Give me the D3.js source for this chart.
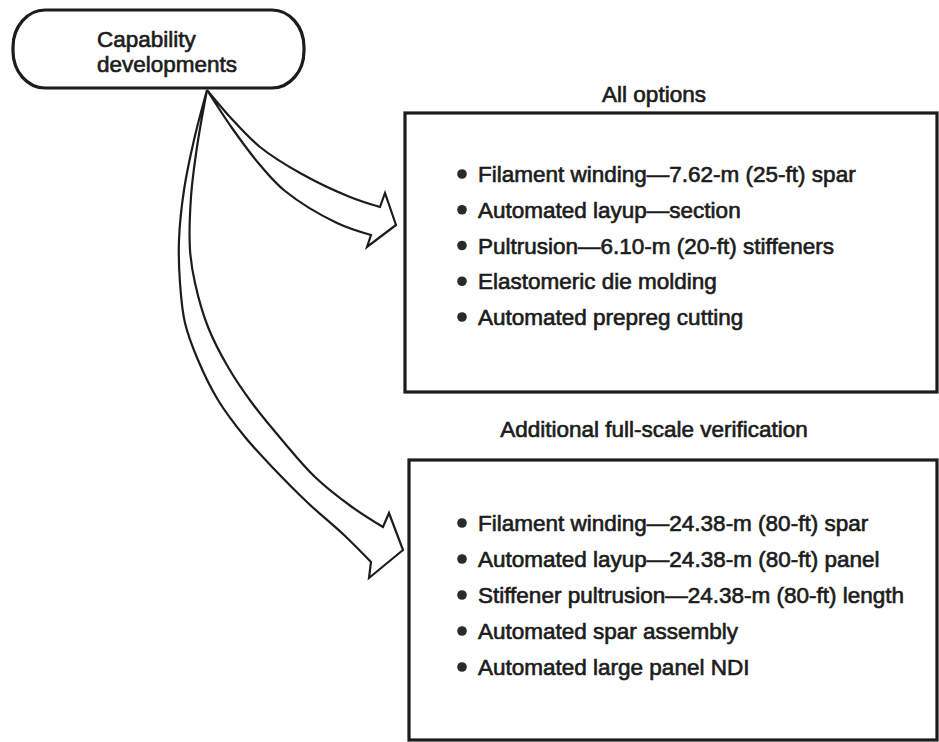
<!DOCTYPE html>
<html>
<head>
<meta charset="utf-8">
<script src="https://cdn.jsdelivr.net/npm/d3@7/dist/d3.min.js"></script>
<style>
  html, body { margin: 0; padding: 0; background: #fff; }
  svg { display: block; }
  text { font-family: "Liberation Sans", Arial, sans-serif; fill: #1c1c1c; stroke: #1c1c1c; stroke-width: 0.65px; }
</style>
</head>
<body>
<div id="chart"></div>
<script>
// ---- data ----
const rootLabel = ["Capability", "developments"];
const groupTitles = ["All options", "Additional full-scale verification"];
const allOptions = [
  "Filament winding\u20147.62-m (25-ft) spar",
  "Automated layup\u2014section",
  "Pultrusion\u20146.10-m (20-ft) stiffeners",
  "Elastomeric die molding",
  "Automated prepreg cutting"
];
const fullScale = [
  "Filament winding\u201424.38-m (80-ft) spar",
  "Automated layup\u201424.38-m (80-ft) panel",
  "Stiffener pultrusion\u201424.38-m (80-ft) length",
  "Automated spar assembly",
  "Automated large panel NDI"
];

// ---- layout ----
const W = 939, H = 742;
const svg = d3.select("#chart").append("svg").attr("width", W).attr("height", H);

const ink = "#1c1c1c";
const fs = 22.5;

// root pill box
svg.append("rect")
  .attr("x", 13).attr("y", 10).attr("width", 291).attr("height", 78)
  .attr("rx", 32).attr("ry", 37)
  .attr("fill", "#fff").attr("stroke", ink).attr("stroke-width", 3.2);

svg.selectAll("text.root").data(rootLabel).join("text")
  .attr("class", "root")
  .attr("x", 97)
  .attr("y", (d, i) => 47 + i * 25)
  .attr("font-size", fs)
  .text(d => d);

// group boxes
const groups = [
  { title: groupTitles[0], items: allOptions, box: { x: 405, y: 113, w: 532, h: 279 }, titleY: 102, rows: [182, 325] },
  { title: groupTitles[1], items: fullScale, box: { x: 409, y: 460, w: 528, h: 280 }, titleY: 437, rows: [531, 675] }
];

groups.forEach(g => {
  svg.append("rect")
    .attr("x", g.box.x).attr("y", g.box.y).attr("width", g.box.w).attr("height", g.box.h)
    .attr("fill", "none").attr("stroke", ink).attr("stroke-width", 3.2);

  svg.append("text")
    .attr("x", 654).attr("y", g.titleY)
    .attr("text-anchor", "middle")
    .attr("font-size", fs)
    .text(g.title);

  const y = d3.scaleLinear().domain([0, g.items.length - 1]).range(g.rows);

  svg.selectAll(null).data(g.items).join("circle")
    .attr("cx", 462).attr("cy", (d, i) => y(i) - 8).attr("r", 4.8)
    .attr("fill", "#2a2a2a");

  svg.selectAll(null).data(g.items).join("text")
    .attr("x", 478).attr("y", (d, i) => y(i))
    .attr("font-size", fs)
    .text(d => d);
});

// curved hollow arrows
const curve = d3.line().curve(d3.curveCatmullRom.alpha(0.5));
function arrowPath(outer, head, inner) {
  const a = curve(outer);
  const b = curve(inner.slice().reverse());
  const headStr = head.map(p => "L" + p[0] + "," + p[1]).join("");
  return a + headStr + "L" + b.slice(1) + "Z";
}

const apex = [207, 90];
const arrows = [
  {
    outer: [apex, [230, 117], [260, 147], [300, 173], [350, 197], [380, 207]],
    head: [[385, 193], [396, 225], [367, 247]],
    inner: [apex, [232, 128], [260, 165], [285, 191], [337, 223], [371, 235]]
  },
  {
    outer: [apex, [194, 140], [184, 190], [179, 240], [180, 283], [185, 323], [198, 360], [218, 400], [245, 437], [275, 470], [308, 503], [344, 535], [371, 562]],
    head: [[369, 578], [403, 550], [389, 513]],
    inner: [apex, [197, 147], [191, 197], [190, 250], [195, 283], [208, 327], [228, 367], [252, 403], [282, 440], [315, 477], [352, 507], [383, 527]]
  }
];

arrows.forEach(a => {
  svg.append("path")
    .attr("d", arrowPath(a.outer, a.head, a.inner))
    .attr("fill", "#fff")
    .attr("stroke", ink)
    .attr("stroke-width", 2.2)
    .attr("stroke-linejoin", "miter");
});
</script>
</body>
</html>
